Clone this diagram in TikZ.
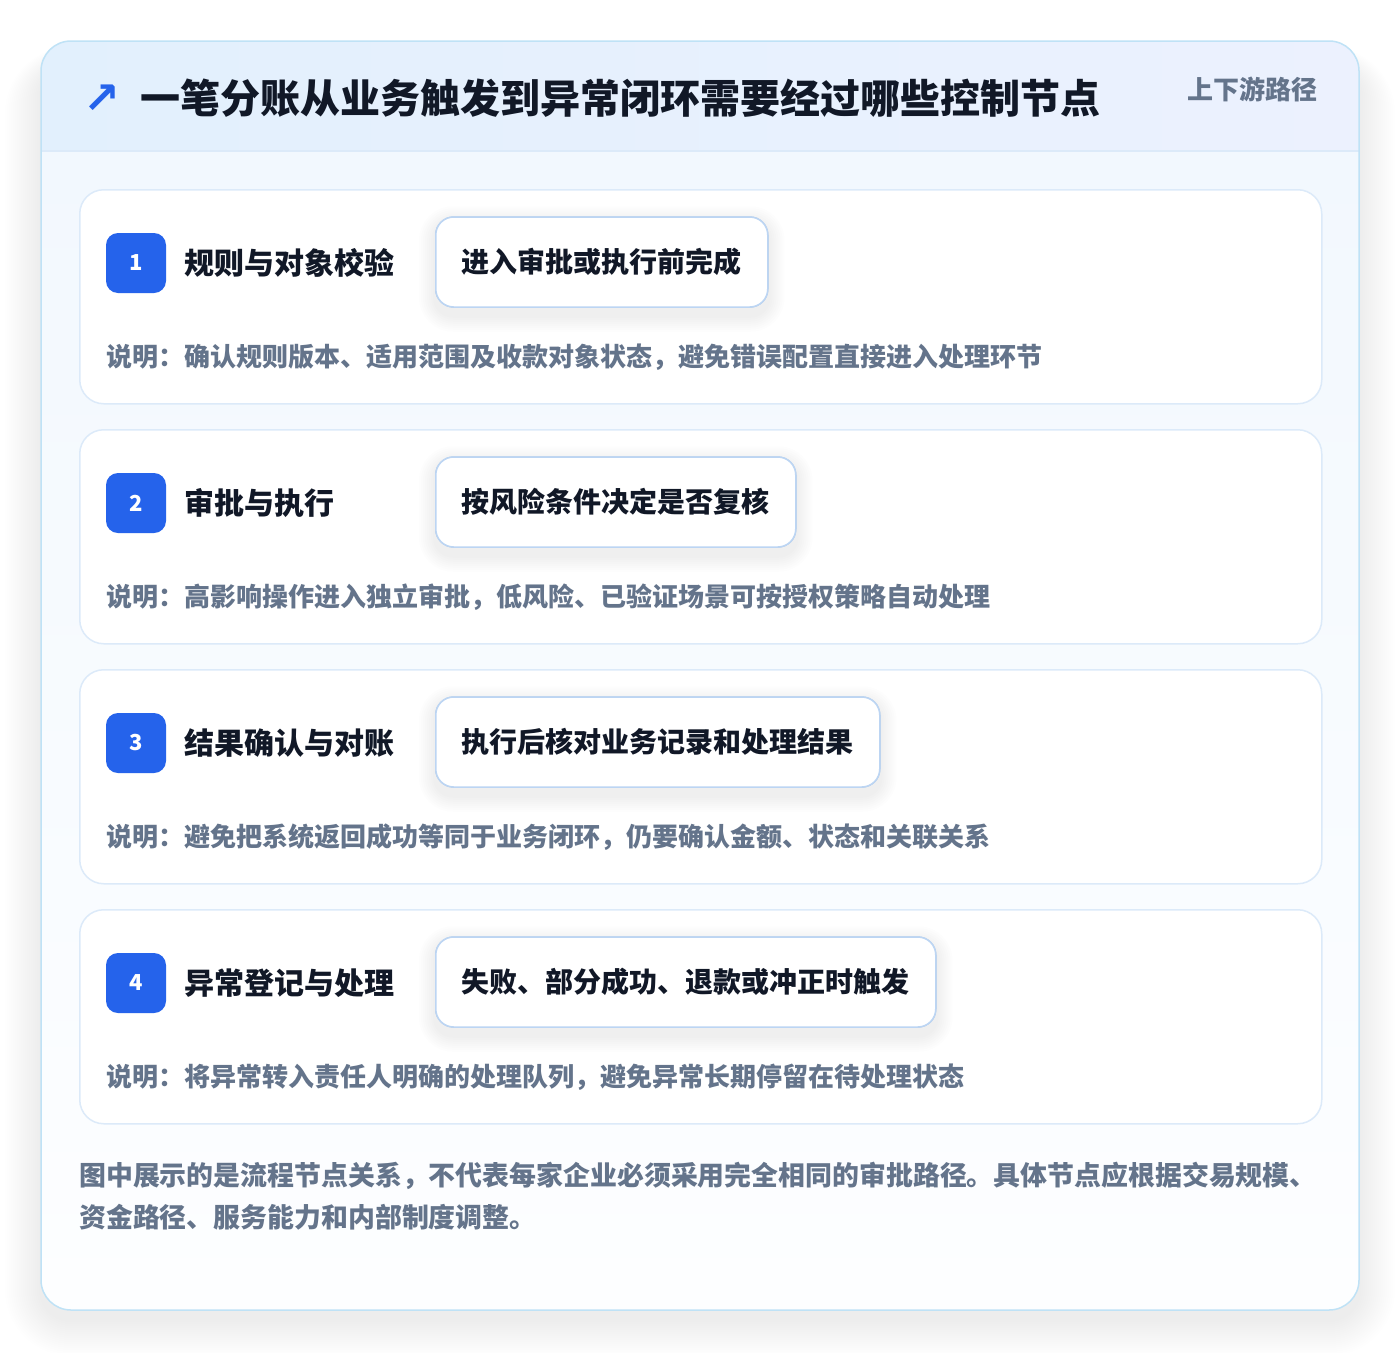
\documentclass[tikz,border=0pt]{standalone}
\usepackage{fontspec}
\setmainfont{Noto Sans CJK SC}
\newfontfamily\symfont{DejaVu Sans}
\usetikzlibrary{positioning}
\definecolor{brandblue}{HTML}{2563EB}
\definecolor{inkdark}{HTML}{111827}
\definecolor{inkgray}{HTML}{64748B}
\definecolor{frameblue}{HTML}{BFE2F6}
\definecolor{cardline}{HTML}{DCEAF9}
\definecolor{tagline}{HTML}{BCD5F3}
\definecolor{headleft}{HTML}{E2F0FD}
\definecolor{headright}{HTML}{ECF1FE}
\definecolor{bodytop}{HTML}{F2F8FE}
\definecolor{bodybottom}{HTML}{FDFEFF}
\definecolor{shadowink}{HTML}{1E293B}
\newcommand{\fsz}[1]{\fontsize{#1}{#1}\selectfont\bfseries}
\newcommand{\stepcard}[5]{% #1: top y, #2: number, #3: title, #4: tag, #5: note
	\begin{scope}[shift={(0,#1)}]
		\node[card] (card#2) at (79,0) {};
		\node[badge] (badge#2) at (136,74) {#2};
		\node[steptitle] (title#2) at (184,74) {#3};
		\node[tagbox] (tag#2) at (435,73) {#4};
		% soft shadow under the tag, then the tag again on top
		\foreach \s in {2,4,...,16}
			\fill[shadowink,opacity=0.006,rounded corners=18pt+\s pt]
				([xshift=-\s pt,yshift=\s pt-6pt]tag#2.north west) rectangle ([xshift=\s pt,yshift=-\s pt-8pt]tag#2.south east);
		\node[tagbox] (tag#2) at (435,73) {#4};
		\node[note] (note#2) at (106,168) {说明：#5};
	\end{scope}
}

\begin{document}
\begin{tikzpicture}[x=1pt,y=-1pt,
	card/.style={draw=cardline,line width=1.5pt,fill=white,rounded corners=24pt,anchor=north west,
		minimum width=1242pt,minimum height=214pt,inner sep=0pt},
	badge/.style={fill=brandblue,rounded corners=12pt,minimum size=60pt,inner sep=0pt,text=white,font=\fsz{22}},
	steptitle/.style={anchor=west,inner sep=0pt,text=inkdark,font=\fsz{30}},
	tagbox/.style={anchor=west,draw=tagline,line width=1.5pt,fill=white,rounded corners=18pt,
		minimum height=90pt,inner xsep=26pt,text=inkdark,font=\fsz{28}},
	note/.style={anchor=west,inner sep=0pt,text=inkgray,font=\fsz{26}},
	footnote/.style={anchor=base west,inner sep=0pt,text=inkgray,font=\fsz{26.9}}]
	\useasboundingbox (0,0) rectangle (1400,1352);
	\fill[white] (0,0) rectangle (1400,1352);

	% Outer frame with its shadow
	\foreach \s in {2,4,...,36}
		\fill[shadowink,opacity=0.0045,rounded corners=30pt+\s pt]
			(41-\s,41-0.5*\s+24) rectangle (1359+\s,1310+\s+10);
	\fill[white,rounded corners=30pt] (41,41) rectangle (1359,1310);
	\begin{scope}
		\clip[rounded corners=30pt] (41,41) rectangle (1359,1310);
		\shade[top color=bodytop,bottom color=bodybottom] (41,151) rectangle (1359,1310);
		\shade[left color=headleft,right color=headright] (41,41) rectangle (1359,151);
		\draw[cardline,line width=1.5pt] (41,151) -- (1359,151);
	\end{scope}
	\draw[frameblue,line width=1.5pt,rounded corners=30pt] (41,41) rectangle (1359,1310);

	% Header
	\node[anchor=center,inner sep=0pt,text=brandblue,font=\symfont\bfseries\fontsize{44}{44}\selectfont] (icon) at (102,99) {↗};
	\node[anchor=west,inner sep=0pt,text=inkdark,font=\fsz{40}] (head) at (140,98) {一笔分账从业务触发到异常闭环需要经过哪些控制节点};
	\node[anchor=east,inner sep=0pt,text=inkgray,font=\fsz{26}] (tagline) at (1318,89) {上下游路径};

	% Step cards
	\stepcard{189}{1}{规则与对象校验}{进入审批或执行前完成}{确认规则版本、适用范围及收款对象状态，避免错误配置直接进入处理环节}
	\stepcard{429}{2}{审批与执行}{按风险条件决定是否复核}{高影响操作进入独立审批，低风险、已验证场景可按授权策略自动处理}
	\stepcard{669}{3}{结果确认与对账}{执行后核对业务记录和处理结果}{避免把系统返回成功等同于业务闭环，仍要确认金额、状态和关联关系}
	\stepcard{909}{4}{异常登记与处理}{失败、部分成功、退款或冲正时触发}{将异常转入责任人明确的处理队列，避免异常长期停留在待处理状态}

	% Footer note
	\node[footnote] (foot1) at (79,1185) {图中展示的是流程节点关系，不代表每家企业必须采用完全相同的审批路径。具体节点应根据交易规模、};
	\node[footnote] (foot2) at (79,1227) {资金路径、服务能力和内部制度调整。};
\end{tikzpicture}
\end{document}
